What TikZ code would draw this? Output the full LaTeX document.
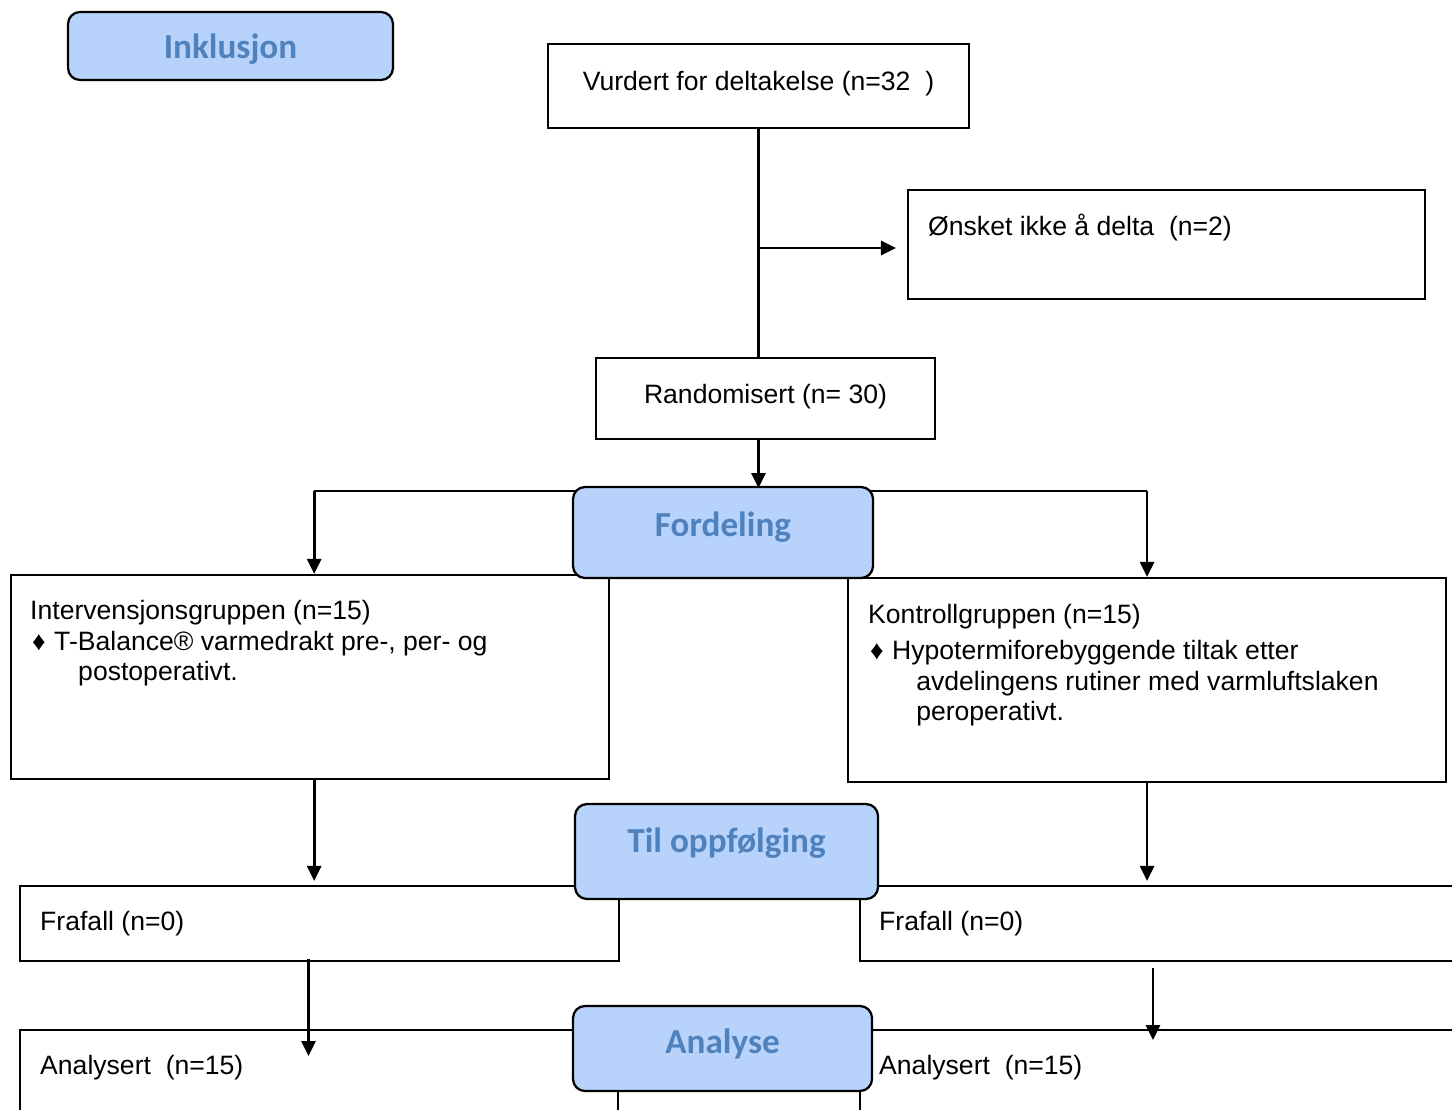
\documentclass[tikz,border=0pt]{standalone}
\usepackage{fontspec}
\setmainfont{Liberation Sans}
\newfontfamily\hdrfont{Carlito}
\usetikzlibrary{positioning, arrows.meta, fit}
\definecolor{hdrfill}{HTML}{B7D3FB}
\definecolor{hdrtext}{HTML}{4F81BD}

\begin{document}
\begin{tikzpicture}[x=0.025cm, y=-0.025cm,
    box/.style={draw, line width=1.5pt, inner sep=0pt},
    hdr/.style={draw, line width=1.6pt, rounded corners=0.3cm, fill=hdrfill, inner sep=0pt},
    hdrtxt/.style={anchor=base, text=hdrtext, inner sep=0pt,
      font=\hdrfont\bfseries\fontsize{25}{28}\selectfont},
    txt/.style={anchor=base west, align=left, inner sep=0pt,
      font=\fontsize{18.9}{22}\selectfont},
    conn/.style={line width=2pt},
    arrow/.style={conn, -{Triangle[length=0.375cm, width=0.35cm]}}]

  \useasboundingbox (0,0) rectangle (1452,1110);
  \clip (0,0) rectangle (1452,1110);

  % boxes
  \node[box, fit={(548,44) (969,128)}] (vurdert) {};
  \node[box, fit={(908,190) (1425,299)}] (onsket) {};
  \node[box, fit={(596,358) (935,439)}] (random) {};
  \node[box, fit={(11,575) (609,779)}] (interv) {};
  \node[box, fit={(848,578) (1446,782)}] (kontroll) {};
  \node[box, fit={(20,886) (619,961)}] (frafallL) {};
  \node[box, fit={(860,886) (1470,961)}] (frafallR) {};
  \node[box, fit={(20,1030) (618,1130)}] (analysL) {};
  \node[box, fit={(860,1030) (1470,1130)}] (analysR) {};

  % texts (base of a multi-line node = its last line)
  \node[txt, anchor=base] at ([shift={(0,48)}]vurdert.north) {Vurdert for deltakelse (n=32\ \ )};
  \node[txt] at ([shift={(21,47)}]onsket.north west) {Ønsket ikke å delta\ \ (n=2)};
  \node[txt, anchor=base] at ([shift={(0,47)}]random.north) {Randomisert (n= 30)};
  \node[txt] at ([shift={(20,107)}]interv.north west) {Intervensjonsgruppen (n=15)\\
    \makebox[0.6cm][l]{\hspace{0.05cm}♦}T-Balance® varmedrakt pre-, per- og\\
    \hspace*{1.2cm}postoperativt.};
  \node[txt] at ([shift={(21,144)}]kontroll.north west) {Kontrollgruppen (n=15)\\[0.125cm]
    \makebox[0.6cm][l]{\hspace{0.05cm}♦}Hypotermiforebyggende tiltak etter\\
    \hspace*{1.2cm}avdelingens rutiner med varmluftslaken\\
    \hspace*{1.2cm}peroperativt.};
  \node[txt] at ([shift={(21,46)}]frafallL.north west) {Frafall (n=0)};
  \node[txt] at ([shift={(20,46)}]frafallR.north west) {Frafall (n=0)};
  \node[txt] at ([shift={(21,46)}]analysL.north west) {Analysert\ \ (n=15)};
  \node[txt] at ([shift={(20,46)}]analysR.north west) {Analysert\ \ (n=15)};

  % connectors
  \coordinate (split) at (759,491);
  \coordinate (drop) at (frafallR.south -| kontroll.south);
  \draw[conn] (vurdert.south) -- (vurdert.south |- random.north);
  \draw[arrow, shorten >=0.275cm] (vurdert.south |- 0,248) -- (onsket.west |- 0,248);
  \draw[arrow] (vurdert.south |- random.south) -- (vurdert.south |- 0,488);
  \draw[conn] ([xshift=3]interv.north |- split) -- (kontroll.north |- split);
  \draw[arrow] ([xshift=3]interv.north |- split) -- ([xshift=3]interv.north);
  \draw[arrow] (kontroll.north |- split) -- (kontroll.north);
  \draw[arrow, shorten >=0.1cm] ([xshift=3]interv.south) -- ([xshift=3]interv.south |- frafallL.north);
  \draw[arrow, shorten >=0.1cm] (kontroll.south) -- (kontroll.south |- frafallR.north);
  \draw[arrow] ([shift={(-11,-3)}]frafallL.south) -- ++(0,97);
  \draw[arrow] ([shift={(6,6)}]drop) -- ++(0,72);

  % headers
  \node[hdr, fit={(68,12) (393,80)}] (inkl) {};
  \node[hdr, fit={(573,487) (873,578)}] (fordeling) {};
  \node[hdr, fit={(575,804) (878,899)}] (oppf) {};
  \node[hdr, fit={(573,1006) (872,1091)}] (analyse) {};
  \node[hdrtxt] at ([shift={(0,48)}]inkl.north) {Inklusjon};
  \node[hdrtxt] at ([shift={(0,51)}]fordeling.north) {Fordeling};
  \node[hdrtxt] at ([shift={(0,50)}]oppf.north) {Til oppfølging};
  \node[hdrtxt] at ([shift={(0,49)}]analyse.north) {Analyse};
\end{tikzpicture}
\end{document}
